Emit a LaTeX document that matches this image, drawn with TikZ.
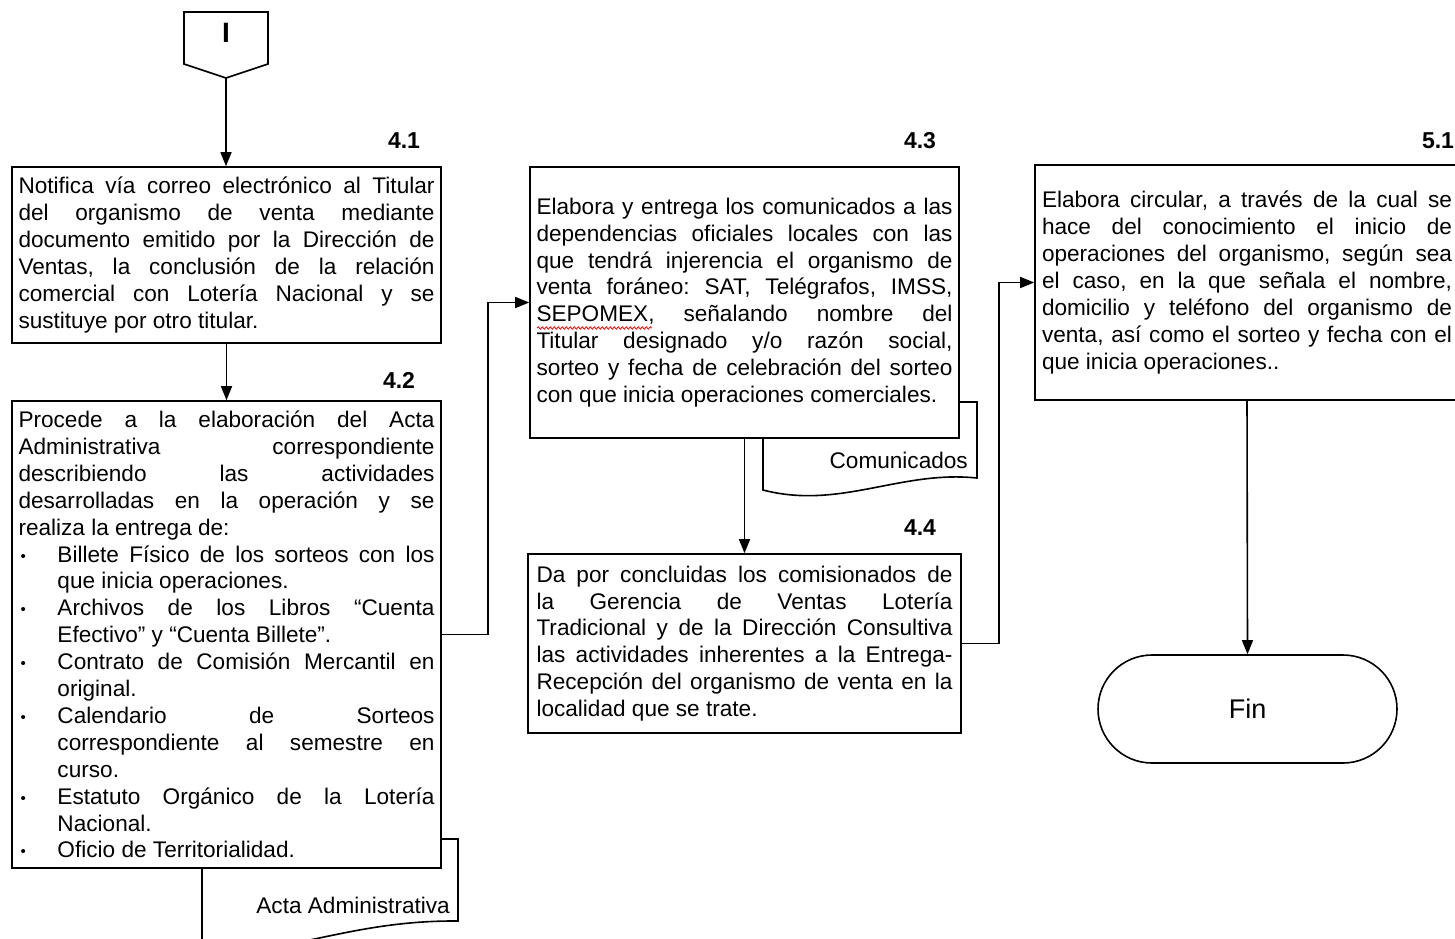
\documentclass[tikz,border=0pt]{standalone}
\usepackage{fontspec}
\setmainfont{Liberation Sans}
\usetikzlibrary{arrows.meta,decorations.pathmorphing}
\newcommand\bodyfont{\fontsize{22.6}{26.9}\selectfont\frenchspacing\tolerance=10000\hbadness=10000\hyphenpenalty=10000}
\newcommand\itm{\par\hangindent=39pt\hangafter=1\noindent\makebox[39pt][l]{\hspace{2pt}\raisebox{1pt}{\fontsize{15}{15}\selectfont •}}}
\begin{document}
\begin{tikzpicture}[x=1pt,y=-1pt,
  stepbox/.style={draw, line width=1.6pt, fill=white, text width=416pt, align=justify,
    inner xsep=0pt, inner ysep=2pt, font=\bodyfont},
  docshape/.style={draw, line width=1.6pt, fill=white},
  doctext/.style={font=\bodyfont, anchor=east, inner sep=0pt},
  arr/.style={line width=1.6pt, -{Triangle[length=14pt,width=11pt]}},
  lbl/.style={font=\fontsize{23}{23}\selectfont\bfseries, inner sep=0pt},
  term/.style={draw, line width=1.6pt, fill=white, rounded corners=54pt,
    minimum width=299pt, minimum height=108pt, font=\fontsize{27}{27}\selectfont}]
\useasboundingbox (0,0) rectangle (1455,938);

% off-page connector
\draw[line width=1.6pt] (184,12) -- (268,12) -- (268,64) -- (226,78) -- (184,64) -- cycle;
\node[font=\fontsize{28}{28}\selectfont\bfseries] (I) at (226,33) {I};
\coordinate (Itip) at (226,78);

% document shapes (behind)
\path[docshape] (202,839) -- (458,839) -- (458,921)
  .. controls (340,920) and (280,962) .. (202,944) -- cycle;
\node[doctext] (acta) at (450,905) {Acta Administrativa};
\path[docshape] (763,402) -- (977,402) -- (977,478)
  .. controls (900,470) and (840,510) .. (763,490) -- cycle;
\node[doctext] (comu) at (968,460) {Comunicados};

% step boxes
\node[stepbox, minimum width=429pt, minimum height=176pt] (b41) at (226.5,255)
{Notifica vía correo electrónico al Titular\linebreak
del organismo de venta mediante\linebreak
documento emitido por la Dirección de\linebreak
Ventas, la conclusión de la relación\linebreak
comercial con Lotería Nacional y se\linebreak
sustituye por otro titular.};

\node[stepbox, minimum width=429pt, minimum height=467pt] (b42) at (226.5,634.5)
{Procede a la elaboración del Acta\linebreak
Administrativa correspondiente\linebreak
describiendo las actividades\linebreak
desarrolladas en la operación y se\linebreak
realiza la entrega de:
\itm Billete Físico de los sorteos con los\linebreak que inicia operaciones.
\itm Archivos de los Libros “Cuenta\linebreak Efectivo” y “Cuenta Billete”.
\itm Contrato de Comisión Mercantil en\linebreak original.
\itm Calendario de Sorteos\linebreak correspondiente al semestre en\linebreak curso.
\itm Estatuto Orgánico de la Lotería\linebreak Nacional.
\itm Oficio de Territorialidad.};

\node[stepbox, minimum width=429pt, minimum height=271pt] (b43) at (744.5,302.5)
{Elabora y entrega los comunicados a las\linebreak
dependencias oficiales locales con las\linebreak
que tendrá injerencia el organismo de\linebreak
venta foráneo: SAT, Telégrafos, IMSS,\linebreak
SEPOMEX, señalando nombre del\linebreak
Titular designado y/o razón social,\linebreak
sorteo y fecha de celebración del sorteo\linebreak
con que inicia operaciones comerciales.};

\node[stepbox, minimum width=433pt, minimum height=179pt] (b44) at (744.5,643.5)
{Da por concluidas los comisionados de\linebreak
la Gerencia de Ventas Lotería\linebreak
Tradicional y de la Dirección Consultiva\linebreak
las actividades inherentes a la Entrega-\linebreak
Recepción del organismo de venta en la\linebreak
localidad que se trate.};

\node[stepbox, text width=410pt, minimum width=424pt, minimum height=235pt] (b51) at (1247,282.5)
{Elabora circular, a través de la cual se\linebreak
hace del conocimiento el inicio de\linebreak
operaciones del organismo, según sea\linebreak
el caso, en la que señala el nombre,\linebreak
domicilio y teléfono del organismo de\linebreak
venta, así como el sorteo y fecha con el\linebreak
que inicia operaciones..};

\node[term] (fin) at (1247.5,709) {Fin};

% spell-check squiggle
\draw[red, line width=0.8pt, decorate, decoration={snake, amplitude=1.2pt, segment length=4pt}]
  (537,328) -- (652,328);

% labels
\node[lbl] (l41) at (404,141) {4.1};
\node[lbl] (l42) at (399,380) {4.2};
\node[lbl] (l43) at (920,141) {4.3};
\node[lbl] (l44) at (920,528) {4.4};
\node[lbl] (l51) at (1438,141) {5.1};

% connectors
\draw[arr] (Itip) -- (b41.north -| Itip);
\draw[arr] (b41.south) -- (b42.north);
\draw[arr] (b42.east) -- ++(46,0) |- (b43.west);
\draw[arr] (b43.south) -- (b44.north);
\draw[arr] (b44.east) -- ++(37,0) |- (b51.west);
\draw[arr] (b51.south) -- (fin.north);
\end{tikzpicture}
\end{document}
